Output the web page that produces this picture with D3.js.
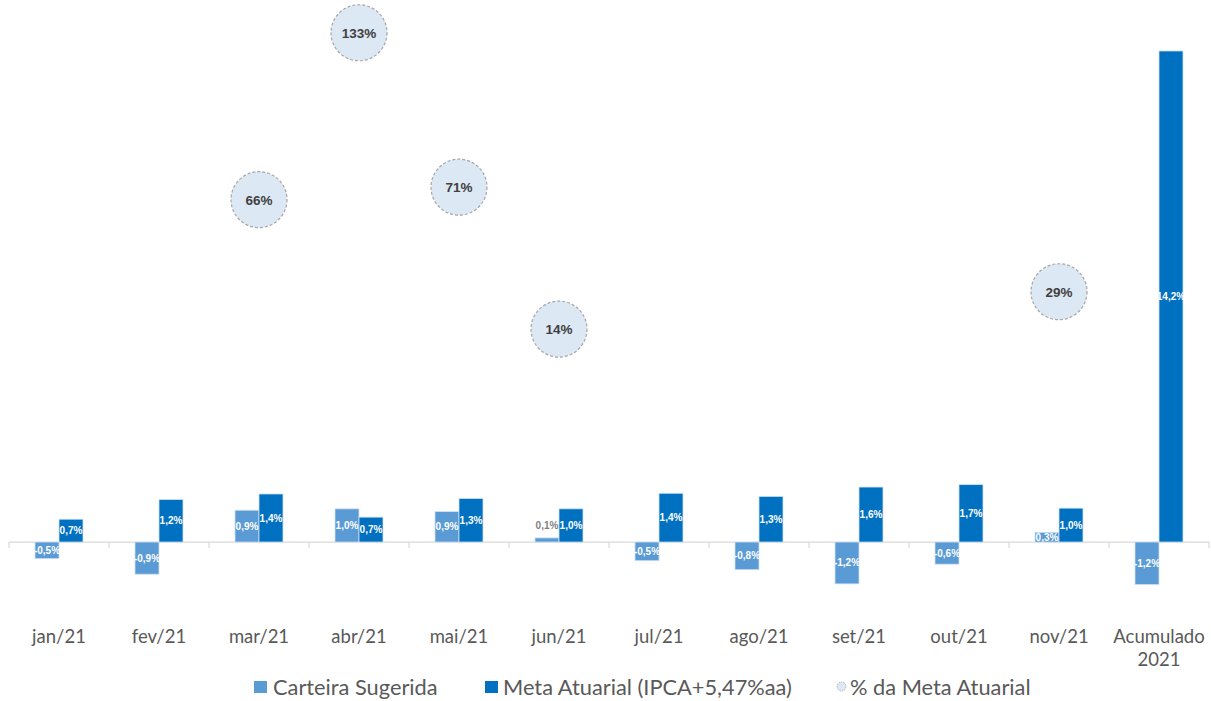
<!DOCTYPE html>
<html>
<head>
<meta charset="utf-8">
<script src="https://cdn.jsdelivr.net/npm/d3@7"></script>
<style>
  html, body { margin: 0; padding: 0; background: #fff; }
  svg { display: block; }
</style>
</head>
<body>
<svg id="chart" width="1211" height="701"></svg>
<script>
const categories = ["jan/21","fev/21","mar/21","abr/21","mai/21","jun/21","jul/21","ago/21","set/21","out/21","nov/21","Acumulado 2021"];
const carteira = [-0.48,-0.93,0.92,0.96,0.88,0.12,-0.54,-0.80,-1.21,-0.64,0.28,-1.23];
const meta = [0.66,1.23,1.39,0.72,1.26,0.96,1.41,1.32,1.59,1.66,0.98,14.2];
const pctMeta = [null,null,66,133,71,14,null,null,null,null,29,null];
const seriesNames = ["Carteira Sugerida","Meta Atuarial (IPCA+5,47%aa)","% da Meta Atuarial"];
const colors = ["#5b9bd5","#0070c0"];

const svg = d3.select("#chart");
const font = "Lato, 'Noto Sans', sans-serif";

const x = d3.scaleBand().domain(categories).range([9, 1209]).paddingInner(0).paddingOuter(0);
const xs = d3.scaleBand().domain([0,1]).range([26, 74]);
const y = d3.scaleLinear().domain([-2, 15]).range([611.2, 23.3]);
const y2 = d3.scaleLinear().domain([-99.3, 136.8]).range([611.2, 23.3]);

const fmt = v => v.toFixed(1).replace(".", ",") + "%";

// axis line and ticks
const g = svg.append("g");
g.append("line").attr("x1", x.range()[0]).attr("x2", x.range()[1])
  .attr("y1", y(0)).attr("y2", y(0)).attr("stroke", "#d9d9d9").attr("stroke-width", 1.2);
const bounds = categories.map(c => x(c)).concat([x.range()[1]]);
g.selectAll("line.tick").data(bounds).join("line").attr("class","tick")
  .attr("x1", d => d).attr("x2", d => d).attr("y1", y(0)).attr("y2", y(0) + 6)
  .attr("stroke", "#d9d9d9").attr("stroke-width", 1.2);

// bars
const rows = categories.map((c, i) => [
  {c, s: 0, v: carteira[i]},
  {c, s: 1, v: meta[i]}
]).flat();

svg.append("g").selectAll("rect").data(rows).join("rect")
  .attr("x", d => x(d.c) + xs(d.s))
  .attr("width", xs.bandwidth())
  .attr("y", d => Math.min(y(d.v), y(0)))
  .attr("height", d => Math.abs(y(d.v) - y(0)))
  .attr("fill", d => colors[d.s])
  .attr("stroke", "#cfe0f3").attr("stroke-width", 0.8);

// bar labels
svg.append("g").selectAll("text").data(rows).join("text")
  .attr("x", d => x(d.c) + xs(d.s) + xs.bandwidth() / 2)
  .attr("y", d => {
    const h = Math.abs(y(d.v) - y(0));
    if (h < 6) return y(d.v) - 9;
    return (y(d.v) + y(0)) / 2 + 3.5;
  })
  .attr("text-anchor", "middle")
  .attr("font-family", "'Liberation Sans', Arial, sans-serif")
  .attr("font-weight", "bold")
  .attr("font-size", 10)
  .attr("fill", d => Math.abs(y(d.v) - y(0)) < 6 ? "#7f7f7f" : "#ffffff")
  .text(d => fmt(d.v));

// circles
const pts = categories.map((c, i) => ({c, v: pctMeta[i]})).filter(d => d.v !== null);
const cg = svg.append("g");
cg.selectAll("circle").data(pts).join("circle")
  .attr("cx", d => x(d.c) + x.bandwidth() / 2)
  .attr("cy", d => y2(d.v))
  .attr("r", 28)
  .attr("fill", "#dde8f5")
  .attr("stroke", "#a6a6a6").attr("stroke-width", 1.2).attr("stroke-dasharray", "3,2");
cg.selectAll("text").data(pts).join("text")
  .attr("x", d => x(d.c) + x.bandwidth() / 2)
  .attr("y", d => y2(d.v) + 5)
  .attr("text-anchor", "middle")
  .attr("font-family", "'Liberation Sans', Arial, sans-serif")
  .attr("font-weight", "bold").attr("font-size", 13.5)
  .attr("fill", "#404040")
  .text(d => d.v + "%");

// category labels
const lg = svg.append("g");
categories.forEach(c => {
  const parts = c.startsWith("Acumulado") ? ["Acumulado", "2021"] : [c];
  const t = lg.append("text")
    .attr("x", x(c) + x.bandwidth() / 2)
    .attr("y", 643)
    .attr("text-anchor", "middle")
    .attr("font-family", font).attr("font-size", 18.5).attr("fill", "#595959");
  parts.forEach((p, k) => t.append("tspan").attr("x", x(c) + x.bandwidth() / 2).attr("dy", k === 0 ? 0 : 23).text(p));
});

// legend
const leg = svg.append("g");
const legItems = [
  {type: "rect", color: colors[0], mx: 254, tx: 273, label: seriesNames[0]},
  {type: "rect", color: colors[1], mx: 485, tx: 503, label: seriesNames[1]},
  {type: "circle", color: "#dde8f5", mx: 837, tx: 850, label: seriesNames[2]}
];
legItems.forEach(it => {
  if (it.type === "rect") {
    leg.append("rect").attr("x", it.mx).attr("y", 681).attr("width", 13).attr("height", 12).attr("fill", it.color);
  } else {
    leg.append("circle").attr("cx", it.mx + 4.5).attr("cy", 686.5).attr("r", 4.5)
      .attr("fill", it.color).attr("stroke", "#a6a6a6").attr("stroke-width", 0.8).attr("stroke-dasharray", "1.5,1");
  }
  leg.append("text").attr("x", it.tx).attr("y", 694.5)
    .attr("font-family", font).attr("font-size", 21.8).attr("fill", "#595959")
    .text(it.label);
});
</script>
</body>
</html>
